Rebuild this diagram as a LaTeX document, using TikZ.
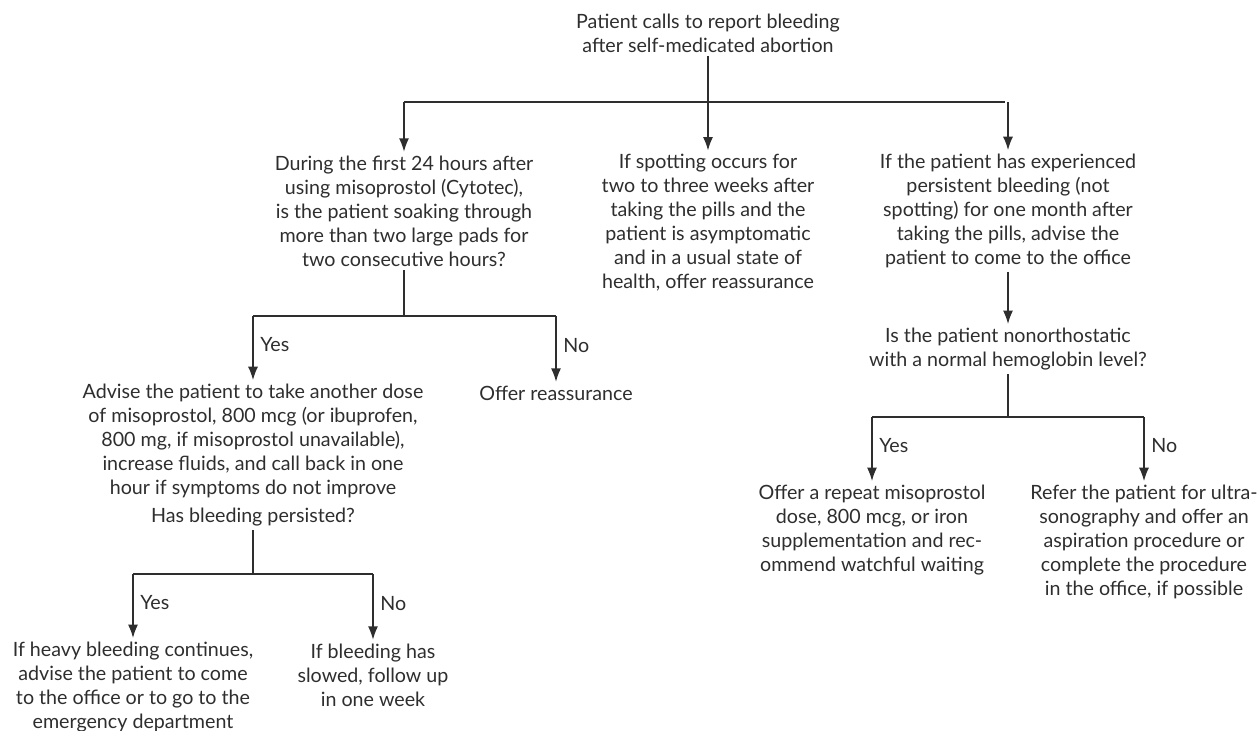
\documentclass[tikz,border=0pt]{standalone}
\usepackage{fontspec}
\setmainfont{Lato}
\usetikzlibrary{arrows.meta}
\definecolor{ink}{HTML}{2E2E2E}
\begin{document}
\begin{tikzpicture}[x=0.75pt,y=-0.75pt,
  txt/.style={align=center,inner sep=0pt,outer sep=3pt,text=ink,font=\fontsize{14.75pt}{18pt}\selectfont},
  lbl/.style={anchor=west,inner sep=0pt,text=ink,font=\fontsize{14.75pt}{18pt}\selectfont},
  conn/.style={draw=ink,line width=1pt},
  arr/.style={conn,-{Latex[length=10pt,width=7.5pt]}}]
\useasboundingbox (0,0) rectangle (1258,731);
% nodes
\node[txt] (top) at (708,33) {Patient calls to report bleeding\\after self-medicated abortion};
\node[txt] (q1) at (404,211) {During the first 24 hours after\\using misoprostol (Cytotec),\\is the patient soaking through\\more than two large pads for\\two consecutive hours?};
\node[txt] (mid) at (708,223) {If spotting occurs for\\two to three weeks after\\taking the pills and the\\patient is asymptomatic\\and in a usual state of\\health, offer reassurance};
\node[txt] (rgt) at (1008,211) {If the patient has experienced\\persistent bleeding (not\\spotting) for one month after\\taking the pills, advise the\\patient to come to the office};
\node[txt] (q2) at (1008,349) {Is the patient nonorthostatic\\with a normal hemoglobin level?};
\node[txt] (adv) at (253,441) {Advise the patient to take another dose\\of misoprostol, 800 mcg (or ibuprofen,\\800 mg, if misoprostol unavailable),\\increase fluids, and call back in one\\hour if symptoms do not improve};
\node[txt] (reas) at (556,393) {Offer reassurance};
\node[txt] (q3) at (253,517) {Has bleeding persisted?};
\node[txt] (heavy) at (133,687) {If heavy bleeding continues,\\advise the patient to come\\to the office or to go to the\\emergency department};
\node[txt] (slow) at (373,675) {If bleeding has\\slowed, follow up\\in one week};
\node[txt] (rep) at (872,530) {Offer a repeat misoprostol\\dose, 800 mcg, or iron\\supplementation and rec-\\ommend watchful waiting};
\node[txt] (ref) at (1144,542) {Refer the patient for ultra-\\sonography and offer an\\aspiration procedure or\\complete the procedure\\in the office, if possible};
% junctions
\coordinate (j1) at (708,102);
\coordinate (j1l) at (404,102);
\coordinate (j1r) at (1008,102);
\coordinate (j1e) at (1005,102);
\coordinate (j2) at (404,316);
\coordinate (j2l) at (253,316);
\coordinate (j2r) at (556,316);
\coordinate (j3) at (253,574);
\coordinate (j3l) at (133,574);
\coordinate (j3r) at (373,574);
\coordinate (j4) at (1008,417);
\coordinate (j4l) at (872,417);
\coordinate (j4r) at (1144,417);
% connectors
\draw[conn] (top.south) -- (j1);
\draw[conn] (j1l) -- (j1e);
\draw[arr] (j1) -- (mid.north);
\draw[arr] (j1l) -- (q1.north);
\draw[arr] (j1r) -- (rgt.north);
\draw[conn] (q1.south) -- (j2);
\draw[conn] (j2l) -- (j2r);
\draw[arr] (j2l) -- (adv.north) node[lbl,pos=0.45,xshift=5pt] {Yes};
\draw[arr] (j2r) -- (reas.north) node[lbl,pos=0.45,xshift=5pt] {No};
\draw[conn] (q3.south) -- (j3);
\draw[conn] (j3l) -- (j3r);
\draw[arr] (j3l) -- (heavy.north) node[lbl,pos=0.45,xshift=5pt] {Yes};
\draw[arr] (j3r) -- (slow.north) node[lbl,pos=0.45,xshift=5pt] {No};
\draw[arr] (rgt.south) -- (q2.north);
\draw[conn] (q2.south) -- (j4);
\draw[conn] (j4l) -- (j4r);
\draw[arr] (j4l) -- (rep.north) node[lbl,pos=0.45,xshift=5pt] {Yes};
\draw[arr] (j4r) -- (ref.north) node[lbl,pos=0.45,xshift=5pt] {No};
\end{tikzpicture}
\end{document}
